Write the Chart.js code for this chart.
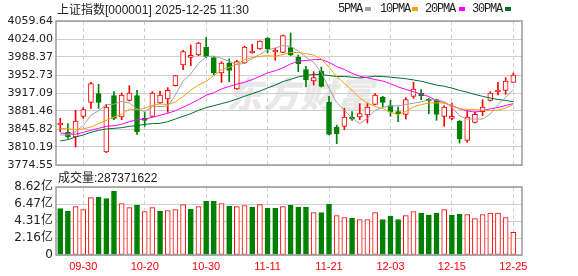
<!DOCTYPE html>
<html><head><meta charset="utf-8">
<script src="https://cdn.jsdelivr.net/npm/chart.js@4/dist/chart.umd.min.js"></script>
<style>
html,body{margin:0;padding:0;background:#fff;width:578px;height:276px;overflow:hidden;position:relative;}
canvas{position:absolute;left:0;z-index:1;}
#c1{top:0;}
#c2{top:175px;}
.t{position:absolute;white-space:nowrap;color:#222;line-height:12px;z-index:2;}
.cn{font-family:"Noto Sans CJK SC";font-size:12px;}
.ls{font-family:"Liberation Sans";font-size:12px;}
.lg{font-family:"Liberation Mono";font-size:12px;letter-spacing:-1.2px;}
.sq{position:absolute;width:6px;height:4px;top:7px;z-index:2;}
#wm{position:absolute;left:226px;top:66px;font-family:"Noto Sans CJK SC";font-weight:900;font-style:italic;font-size:36px;color:#e8e8e8;z-index:0;letter-spacing:1px;}
</style></head>
<body>
<div id="wm">东方财富</div>
<div class="t" style="left:57px;top:3px;"><span class="cn">上证指数</span><span class="ls">[000001] 2025-12-25 11:30</span></div>
<div class="t lg" style="left:338px;top:3px;">5PMA</div><div class="sq" style="left:365px;background:#a0a0a0"></div>
<div class="t lg" style="left:380px;top:3px;">10PMA</div><div class="sq" style="left:412px;background:#f5a300"></div>
<div class="t lg" style="left:425px;top:3px;">20PMA</div><div class="sq" style="left:459px;background:#ff00ff"></div>
<div class="t lg" style="left:472px;top:3px;">30PMA</div><div class="sq" style="left:505px;background:#006e30"></div>
<div class="t" style="left:58px;top:171px;"><span class="cn">成交量</span><span class="ls">:287371622</span></div>
<canvas id="c1" width="578" height="175"></canvas>
<canvas id="c2" width="578" height="101"></canvas>
<script>
const dates = ['09-25','09-26','09-29','09-30','10-09','10-10','10-13','10-14','10-15','10-16','10-17','10-20','10-21','10-22','10-23','10-24','10-27','10-28','10-29','10-30','10-31','11-03','11-04','11-05','11-06','11-07','11-10','11-11','11-12','11-13','11-14','11-17','11-18','11-19','11-20','11-21','11-24','11-25','11-26','11-27','11-28','12-01','12-02','12-03','12-04','12-05','12-08','12-09','12-10','12-11','12-12','12-15','12-16','12-17','12-18','12-19','12-22','12-23','12-24','12-25'];
const labelIdx = [3,11,19,27,35,43,51,59];

const open  = [3853.7,3839.2,3830.0,3870.9,3898.6,3915.8,3800.3,3911.8,3869.6,3902.6,3911.8,3865.6,3870.9,3897.3,3905.2,3931.6,3972.5,3987.7,3992.3,4008.2,3987.0,3956.7,3976.5,3925.0,3976.5,3996.3,4004.2,4025.3,3998.3,3997.6,4006.8,3988.4,3963.3,3940.8,3960.6,3898.6,3849.8,3851.1,3868.3,3869.6,3873.5,3894.7,3909.2,3892.0,3880.1,3874.9,3910.5,3917.1,3903.9,3903.9,3870.9,3866.9,3861.7,3823.4,3859.0,3880.1,3902.6,3919.1,3922.4,3938.2];
const high  = [3866.9,3856.4,3882.8,3888.1,3938.2,3934.3,3894.7,3919.7,3917.1,3931.6,3922.4,3878.8,3919.7,3921.0,3927.7,3952.0,4001.6,4012.1,4017.4,4026.6,3988.4,3979.1,3984.4,3981.8,4009.5,4013.4,4020.5,4026.6,4005.5,4031.9,4035.9,3992.3,3969.9,3959.3,3968.6,3910.5,3853.7,3886.7,3880.1,3896.0,3897.3,3915.8,3910.5,3902.6,3889.4,3907.9,3938.2,3923.7,3906.5,3905.2,3892.0,3897.3,3862.5,3881.5,3880.1,3903.9,3919.7,3938.2,3947.5,3956.7];
const low   = [3840.5,3827.3,3810.2,3866.9,3886.7,3886.7,3799.0,3864.3,3864.3,3901.2,3835.3,3851.1,3869.6,3896.0,3878.8,3931.0,3963.3,3971.2,3991.0,3987.0,3952.7,3938.2,3939.5,3924.0,3975.5,3995.5,4003.5,3996.3,3981.8,3996.8,3991.0,3959.3,3929.0,3932.9,3929.0,3834.0,3816.8,3844.5,3863.0,3864.3,3857.7,3893.3,3889.4,3870.9,3860.3,3865.6,3906.5,3903.9,3876.2,3863.0,3851.1,3864.3,3818.1,3819.4,3857.7,3872.2,3901.2,3913.1,3914.4,3938.2];
const close = [3855.1,3830.0,3861.7,3884.1,3935.6,3898.6,3889.4,3866.9,3913.1,3917.1,3840.5,3863.0,3917.1,3913.1,3922.4,3951.4,3998.9,3989.0,4016.1,3989.7,3956.7,3976.5,3961.9,3979.1,4008.2,3997.6,4020.0,4004.2,3999.6,4030.6,3992.3,3975.2,3943.5,3947.5,3930.3,3835.3,3836.0,3869.6,3865.6,3876.2,3889.4,3913.1,3898.6,3880.1,3876.2,3903.9,3925.0,3911.8,3901.2,3874.9,3889.4,3867.6,3826.0,3869.6,3874.9,3889.4,3917.1,3920.4,3940.8,3952.7];

const ma5  = [3834.0,3834.0,3840.5,3852.4,3873.3,3882.0,3893.9,3894.9,3900.7,3897.0,3885.4,3880.1,3890.2,3890.2,3891.2,3913.4,3940.6,3955.0,3975.6,3989.0,3990.1,3985.6,3980.2,3972.8,3976.5,3985.1,3993.8,4002.2,4006.3,4010.8,4009.3,4000.4,3988.2,3977.8,3957.8,3926.4,3898.4,3883.6,3867.2,3856.4,3867.2,3882.8,3888.6,3891.5,3891.5,3894.4,3896.8,3899.4,3903.6,3903.4,3900.5,3889.0,3871.8,3865.5,3865.5,3865.5,3875.4,3894.3,3908.5,3924.1];
const ma10 = [3847.0,3846.0,3845.0,3846.0,3849.8,3856.4,3863.0,3869.6,3874.9,3885.2,3883.7,3887.0,3892.5,3895.4,3894.1,3899.4,3910.4,3922.6,3932.9,3940.1,3951.7,3963.1,3967.6,3974.2,3982.8,3987.6,3989.7,3991.2,3989.6,3993.6,3997.2,3997.1,3995.2,3992.1,3984.3,3967.9,3949.4,3935.9,3922.5,3907.1,3896.8,3890.6,3886.1,3879.4,3873.9,3880.8,3889.8,3894.0,3897.6,3897.4,3897.4,3892.9,3885.6,3884.6,3884.4,3883.0,3882.2,3883.1,3887.0,3894.8];
const ma20 = [3837.9,3836.6,3835.3,3839.2,3843.2,3847.2,3851.1,3852.4,3855.1,3860.3,3864.3,3865.6,3869.0,3873.0,3877.0,3882.0,3889.0,3896.0,3904.0,3912.6,3917.7,3925.0,3930.1,3934.8,3938.4,3943.5,3950.0,3956.9,3961.2,3966.9,3974.5,3980.1,3981.4,3983.1,3983.5,3977.7,3969.5,3963.6,3956.0,3950.4,3947.0,3943.8,3940.7,3935.7,3929.1,3924.3,3919.6,3915.0,3910.0,3902.3,3897.1,3891.7,3885.9,3882.0,3879.2,3881.9,3886.0,3888.5,3892.3,3896.1];
const ma30 = [3822.1,3824.7,3830.0,3834.0,3839.2,3843.2,3845.8,3847.1,3848.5,3851.1,3852.4,3855.1,3856.4,3857.0,3860.3,3865.6,3870.9,3876.2,3882.8,3888.1,3892.0,3896.0,3899.9,3905.2,3910.5,3915.8,3921.0,3927.0,3932.9,3939.6,3944.2,3949.1,3951.8,3953.9,3953.7,3951.6,3949.8,3949.9,3948.3,3946.9,3948.6,3950.2,3949.6,3948.5,3947.0,3945.4,3942.9,3940.4,3936.5,3932.7,3930.5,3926.8,3922.3,3918.7,3914.2,3910.5,3907.1,3904.3,3902.4,3899.8];

// volume in 亿
const volume = [5.89,5.55,6.14,5.76,7.28,7.32,7.15,8.07,6.52,6.01,6.31,5.51,6.01,5.55,5.64,5.76,6.39,5.80,6.14,6.81,6.81,6.52,6.18,6.14,6.27,6.06,6.39,5.93,5.93,6.14,6.31,6.06,6.06,5.38,5.38,6.43,5.00,4.75,4.67,4.50,4.50,5.38,4.50,4.92,4.50,5.00,5.51,5.30,5.05,5.30,5.76,5.05,5.17,5.13,4.63,5.13,5.30,5.30,4.75,2.87];
const volUp  = [0,0,1,1,1,0,0,0,1,1,0,1,1,0,1,1,1,0,1,0,0,1,0,1,1,0,1,0,0,1,0,0,0,1,0,0,1,1,0,1,1,1,0,0,0,1,1,0,0,0,1,0,0,1,1,1,1,1,1,1];

const yTicks = [3774.55,3810.19,3845.82,3881.46,3917.09,3952.73,3988.37,4024.00,4059.64];
const yTickLabels = ['3774.55','3810.19','3845.82','3881.46','3917.09','3952.73','3988.37','4024.00','4059.64'];
const volTicks = [0,2.155,4.31,6.465,8.62];
const volTickLabels = ['0','2.16亿','4.31亿','6.47亿','8.62亿'];

const RED = '#ff0000', GREEN = '#008000', GRID = '#cfcfcf';
const idx = dates.map((_, i) => i);
const up = idx.map(i => close[i] >= open[i]);

const framePlugin = {
  id: 'frame',
  afterDraw(chart) {
    const {ctx, chartArea: a} = chart;
    ctx.save();
    ctx.strokeStyle = '#9a9a9a';
    ctx.lineWidth = 1.5;
    ctx.strokeRect(a.left, a.top, a.right - a.left, a.bottom - a.top);
    ctx.restore();
  }
};

const xBase = {
  type: 'linear', min: -0.55, max: 60.13, offset: false,
  afterBuildTicks: s => { s.ticks = labelIdx.map(v => ({value: v})); },
  grid: {color: GRID, drawTicks: false, offset: false},
  border: {display: false, dash: [4, 3]}
};

function lineDs(arr, color) {
  return {type: 'line', data: idx.map(i => ({x: i, y: arr[i]})), borderColor: color, borderWidth: 1,
          pointRadius: 0, fill: false, tension: 0, order: 0};
}

new Chart(document.getElementById('c1'), {
  type: 'bar',
  data: {datasets: [
    lineDs(ma5, '#a0a0a0'),
    lineDs(ma10, '#f5a300'),
    lineDs(ma20, '#ff00ff'),
    lineDs(ma30, '#006e30'),
    {data: idx.map(i => ({x: i, y: [open[i], close[i]]})),
     backgroundColor: up.map(u => u ? '#ffffff' : GREEN),
     borderColor: up.map(u => u ? RED : GREEN),
     borderWidth: 1, borderSkipped: false, barThickness: 5, minBarLength: 2, grouped: false, order: 1},
    {data: idx.map(i => ({x: i, y: [low[i], high[i]]})),
     backgroundColor: up.map(u => u ? RED : GREEN),
     borderWidth: 0, barThickness: 1, grouped: false, order: 2}
  ]},
  options: {
    responsive: false, animation: false, devicePixelRatio: 1,
    layout: {padding: {left: 0, right: 56, top: 21, bottom: 10}},
    plugins: {legend: {display: false}, tooltip: {enabled: false}},
    scales: {
      x: Object.assign({}, xBase, {ticks: {display: false}, afterFit: s => { s.height = 0; }}),
      y: {
        min: 3774.55, max: 4059.64,
        afterBuildTicks: s => { s.ticks = yTicks.map(v => ({value: v})); },
        ticks: {callback: (v, i) => yTickLabels[i], font: {family: 'DejaVu Sans', size: 11}, color: '#222', padding: 3, autoSkip: false},
        grid: {color: GRID, drawTicks: false},
        border: {display: false},
        afterFit: s => { s.width = 56; }
      }
    }
  },
  plugins: [framePlugin]
});

new Chart(document.getElementById('c2'), {
  type: 'bar',
  data: {datasets: [
    {data: idx.map(i => ({x: i, y: volume[i]})),
     backgroundColor: volUp.map(u => u ? '#ffffff' : GREEN),
     borderColor: volUp.map(u => u ? RED : GREEN),
     borderWidth: 1, borderSkipped: false, barThickness: 5, grouped: false}
  ]},
  options: {
    responsive: false, animation: false, devicePixelRatio: 1,
    layout: {padding: {left: 0, right: 56, top: 12, bottom: 0}},
    plugins: {legend: {display: false}, tooltip: {enabled: false}},
    scales: {
      x: Object.assign({}, xBase, {
        ticks: {callback: v => dates[v], color: RED, font: {family: 'Liberation Sans', size: 11}, padding: 5, maxRotation: 0, autoSkip: false},
        afterFit: s => { s.height = 21; }
      }),
      y: {
        min: 0, max: 8.62,
        afterBuildTicks: s => { s.ticks = volTicks.map(v => ({value: v})); },
        ticks: {callback: (v, i) => volTickLabels[i], font: {family: 'DejaVu Sans, "Noto Sans CJK SC"', size: 12}, color: '#222', padding: 3, autoSkip: false},
        grid: {color: GRID, drawTicks: false},
        border: {display: false},
        afterFit: s => { s.width = 56; }
      }
    }
  },
  plugins: [framePlugin]
});
</script>
</body></html>
